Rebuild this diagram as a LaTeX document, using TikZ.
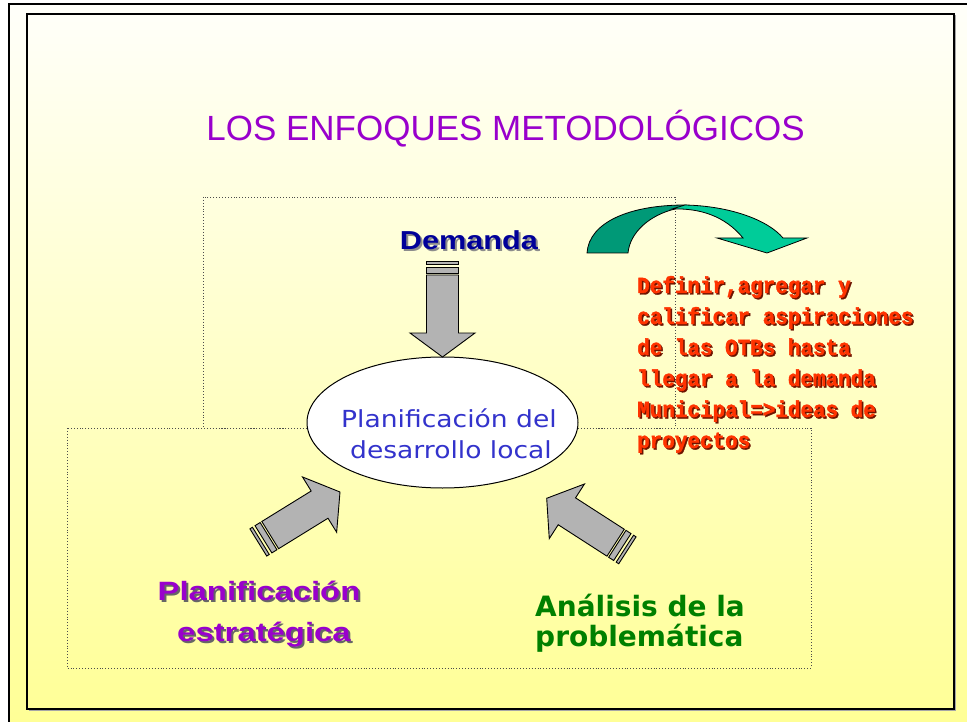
\documentclass[tikz,border=0pt]{standalone}
\usepackage{fontspec}
\usetikzlibrary{shapes.geometric}
\newfontfamily\fTitle{Liberation Sans}
\newfontfamily\fWide[FakeStretch=1.18]{Liberation Sans}
\newfontfamily\fWider[FakeStretch=1.24]{Liberation Sans}
\newfontfamily\fTah[FakeStretch=1.13]{DejaVu Sans}
\newfontfamily\fTahB{DejaVu Sans}
\newfontfamily\fCour[FakeStretch=0.91, BoldFeatures={FakeBold=1.5}]{Liberation Mono}
\definecolor{ttlpurple}{RGB}{153,0,204}
\definecolor{navyblue}{RGB}{0,0,153}
\definecolor{ellblue}{RGB}{51,51,204}
\definecolor{dkgreen}{RGB}{0,128,0}
\definecolor{redorange}{RGB}{255,51,0}
\definecolor{redshadow}{RGB}{110,20,0}
\definecolor{tealdark}{RGB}{0,153,119}
\definecolor{teallight}{RGB}{0,204,153}
\definecolor{arrowgrey}{RGB}{179,179,179}
\definecolor{bgtop}{RGB}{255,255,250}
\definecolor{bgbot}{RGB}{255,255,150}
% text with an offset shadow: #1 shadow colour, #2 right shift, #3 down shift, #4 text
\newcommand\shtext[4]{\makebox[0pt][l]{\hspace*{#2}\raisebox{-#3}{\textcolor{#1}{#4}}}#4}
\begin{document}
\begin{tikzpicture}[x=1pt,y=-1pt,
  lbl/.style={inner sep=0pt, anchor=base},
  arrowfill/.style={fill=arrowgrey, draw=black, line width=0.9pt, line join=miter},
  dotbox/.style={draw=black!70, dotted, line width=0.9pt},
  redtxt/.style={inner sep=0pt, anchor=base west, font=\fCour\bfseries\fontsize{23}{26}\selectfont, text=redorange},
  fatarrow/.pic={
    \path[arrowfill] (0,0) -- (-24,32.5) -- (-24,16) -- (-82,16) -- (-82,-16) -- (-24,-16) -- (-24,-32.5) -- cycle;
    \path[arrowfill] (-84,16) rectangle (-90,-16);
    \path[arrowfill] (-93,16) rectangle (-96,-16);
  }]
\useasboundingbox (0,0) rectangle (967,722);
\fill[white] (0,0) rectangle (967,722);
\shade[top color=bgtop, bottom color=bgbot] (9,4) rectangle (967,722);
% frames
\draw[line width=1.5pt] (9,722) -- (9,4) -- (967,4);
\draw[black!35, line width=1.2pt] (28.5,710.5) -- (955.5,710.5) -- (955.5,15.5);
\draw[line width=1.2pt] (27,14) rectangle (954,709);
% dotted boxes
\draw[dotbox] (203,197) rectangle (675,428);
\draw[dotbox] (67,428) rectangle (811,668);
% curved arrow
\path[fill=tealdark, draw=black, line width=0.8pt]
  (587,253) .. controls (589,222) and (630,205) .. (685,205)
  -- (675,209) .. controls (650,215) and (630,232) .. (628,253) -- cycle;
\path[fill=teallight, draw=black, line width=0.8pt]
  (685,205) .. controls (730,206) and (768,220) .. (783,238)
  -- (807,238) -- (767,253) -- (717,238) -- (743,238)
  .. controls (725,216) and (700,208) .. (672,209) -- cycle;
% title
\node[lbl, text=ttlpurple, font=\fTitle\fontsize{35}{40}\selectfont] (title) at (505.5,141) {LOS ENFOQUES METODOLÓGICOS};
% Demanda
\node[lbl, text=navyblue, font=\fWide\bfseries\fontsize{26}{30}\selectfont] (dem) at (469,250) {\shtext{black!45}{2pt}{2pt}{Demanda}};
% ellipse
\node[ellipse, draw=black, line width=1pt, fill=white, minimum width=271pt, minimum height=131pt, inner sep=0pt] (ell) at (442.5,422.5) {};
\node[lbl, text=ellblue, font=\fTah\fontsize{23.5}{28}\selectfont] (ell1) at (449,427) {Planificación del};
\node[lbl, text=ellblue, font=\fTah\fontsize{23.5}{28}\selectfont] (ell2) at (451,458) {desarrollo local};
% grey block arrows
\pic[rotate=-90] at (442.5,357) {fatarrow};
\pic[rotate=31.7] at (340,492) {fatarrow};
\pic[rotate=147.2] at (546.7,498.3) {fatarrow};
% red text
\foreach \t [count=\i] in {{Definir,agregar y},{calificar aspiraciones},{de las OTBs hasta},{llegar a la demanda},{Municipal=>ideas de},{proyectos}} {
  \node[redtxt] (r\i) at (637,{293+31*(\i-1)}) {\shtext{redshadow}{1.5pt}{1.5pt}{\t}};
}
% Planificacion estrategica
\node[lbl, text=ttlpurple, font=\fWider\bfseries\fontsize{26.5}{32}\selectfont] (p1) at (259,600) {\shtext{black!60}{2pt}{2pt}{Planificación}};
\node[lbl, text=ttlpurple, font=\fWider\bfseries\fontsize{26.5}{32}\selectfont] (p2) at (264,641.7) {\shtext{black!60}{2pt}{2pt}{estratégica}};
% Analisis
\node[inner sep=0pt, anchor=base west, text=dkgreen, font=\fTahB\bfseries\fontsize{28}{32}\selectfont] (g1) at (535,616.7) {Análisis de la};
\node[inner sep=0pt, anchor=base west, text=dkgreen, font=\fTahB\bfseries\fontsize{28}{32}\selectfont] (g2) at (535,646) {problemática};
\end{tikzpicture}
\end{document}
